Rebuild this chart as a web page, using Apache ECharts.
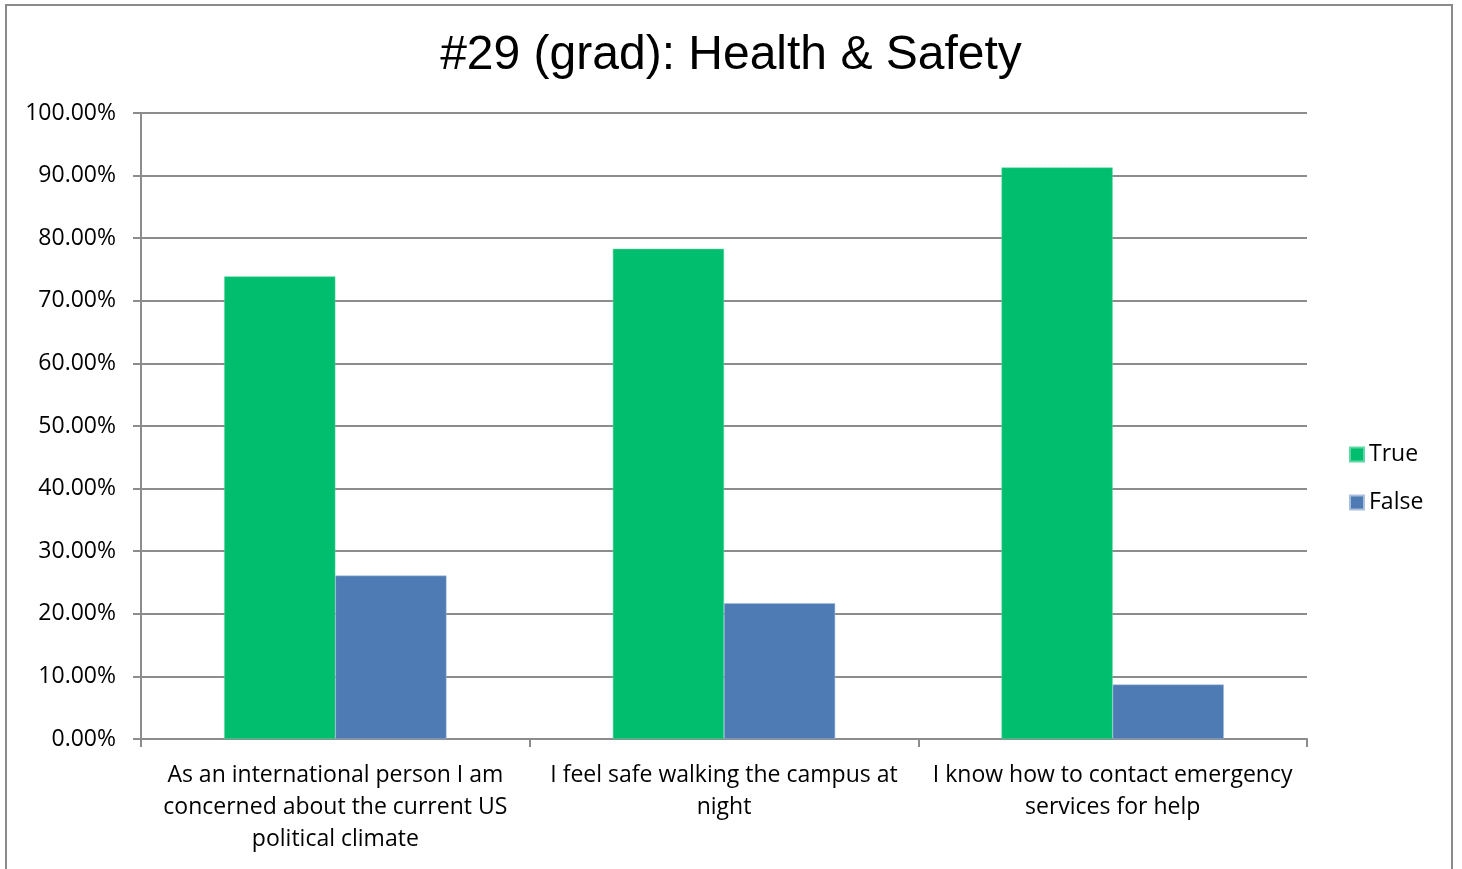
<!DOCTYPE html>
<html>
<head>
<meta charset="utf-8">
<script src="https://cdn.jsdelivr.net/npm/echarts@6/dist/echarts.min.js"></script>
<style>
    html, body { margin: 0; padding: 0; background: #fff; }
    #chart { width: 1462px; height: 869px; }
</style>
</head>
<body>
<div id="chart"></div>
<script>
// 数据
const categories = [
    'As an international person I am\nconcerned about the current US\npolitical climate',
    'I feel safe walking the campus at\nnight',
    'I know how to contact emergency\nservices for help'
]
const trueValues = [73.9, 78.3, 91.3]
const falseValues = [26.1, 21.7, 8.7]
const seriesNames = ['True', 'False']

;(function () {
    let chart = echarts.init(document.querySelector('#chart'))
    let axisColor = '#8c8c8c'
    let option = {
        color: ['#00be6e', '#4e7bb4'],
        // 外框
        graphic: [
            {
                type: 'rect',
                silent: true,
                shape: { x: 6, y: 5, width: 1446, height: 900 },
                style: { fill: 'none', stroke: '#8a8a8a', lineWidth: 2 }
            }
        ],
        title: {
            text: '#29 (grad): Health & Safety',
            left: 'center',
            top: 27,
            textStyle: {
                fontFamily: 'Liberation Sans',
                fontWeight: 'normal',
                fontSize: 48,
                color: '#000'
            }
        },
        legend: {
            orient: 'vertical',
            left: 1344,
            top: 438,
            itemWidth: 14,
            itemHeight: 14,
            itemGap: 25,
            icon: 'rect',
            textStyle: {
                fontFamily: 'Open Sans',
                fontSize: 23,
                color: '#000'
            },
            data: seriesNames
        },
        grid: {
            left: 141,
            right: 155,
            top: 113,
            bottom: 130
        },
        xAxis: {
            type: 'category',
            data: categories,
            axisTick: {
                show: true,
                length: 8,
                lineStyle: { color: axisColor, width: 2 }
            },
            axisLine: {
                lineStyle: { color: axisColor, width: 2 }
            },
            axisLabel: {
                interval: 0,
                margin: 20,
                color: '#000',
                fontFamily: 'Open Sans',
                fontSize: 23,
                lineHeight: 32
            }
        },
        yAxis: {
            type: 'value',
            min: 0,
            max: 100,
            interval: 10,
            axisLine: {
                show: true,
                lineStyle: { color: axisColor, width: 2 }
            },
            axisTick: {
                show: true,
                length: 8,
                lineStyle: { color: axisColor, width: 2 }
            },
            axisLabel: {
                margin: 25,
                color: '#000',
                fontFamily: 'Open Sans',
                fontSize: 23,
                padding: [3, 0, 0, 0],
                formatter: function (v) {
                    return v.toFixed(2) + '%'
                }
            },
            splitLine: {
                lineStyle: { color: axisColor, width: 2 }
            }
        },
        series: [
            {
                name: seriesNames[0],
                type: 'bar',
                data: trueValues,
                barWidth: '28.6%',
                barGap: '0%',
                itemStyle: { borderColor: '#5fd7a2', borderWidth: 0.5 }
            },
            {
                name: seriesNames[1],
                type: 'bar',
                data: falseValues,
                barWidth: '28.6%',
                barGap: '0%',
                itemStyle: { borderColor: '#a9bedc', borderWidth: 0.5 }
            }
        ]
    }
    chart.setOption(option)
    window.addEventListener('resize', function () {
        chart.resize()
    })
})()
</script>
</body>
</html>
